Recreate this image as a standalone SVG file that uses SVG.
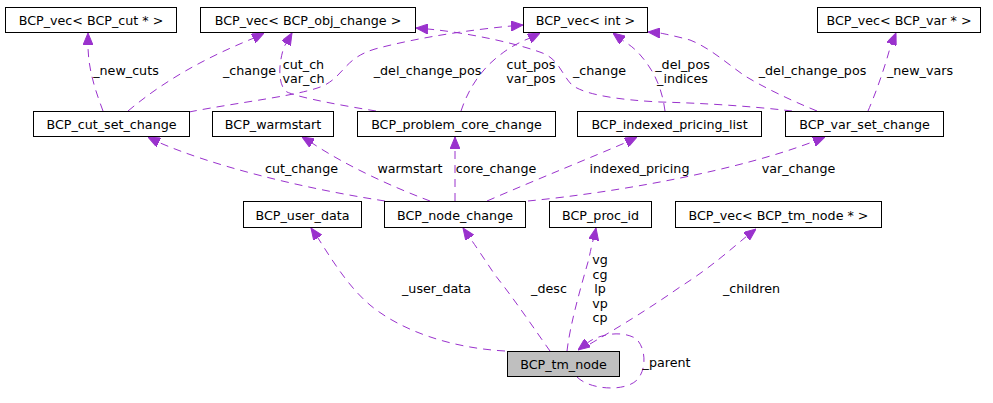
<svg xmlns="http://www.w3.org/2000/svg" width="993" height="403" viewBox="0 0 993 403">
<style>
.n rect{fill:#ffffff;stroke:#000000;stroke-width:1}
.n.hl rect{fill:#bfbfbf}
text{font-family:"DejaVu Sans","Liberation Sans",sans-serif;font-size:12.7px;fill:#000000}
.n text{text-anchor:middle}
.lbl text{text-anchor:middle}
.e path{fill:none;stroke:#9a32cd;stroke-width:1;stroke-dasharray:8,6;marker-end:url(#ah)}
</style>
<defs>
<marker id="ah" markerUnits="userSpaceOnUse" viewBox="0 0 12 10" markerWidth="12" markerHeight="10" refX="12" refY="5" orient="auto">
<path d="M0,0 L12,5 L0,10 z" fill="#9a32cd" stroke="#9a32cd"/>
</marker>
</defs>
<rect width="993" height="403" fill="#ffffff"/>

<g id="connectors" class="e">
<path d="M103,111 C96,92 88,70 88,45 L88,33"/>
<path d="M128,111 C165,80 205,58 254,38 L264,33"/>
<path d="M376,111 C345,106 300,98 287,92 C278,86 278,65 284,47 L292,33"/>
<path d="M189,112 C240,102 305,95 325,85 C345,74 345,58 375,49 C420,37 470,30 511,26 L523,25"/>
<path d="M461,111 C468,90 480,70 500,55 C510,47 520,42 530,38 L540,33"/>
<path d="M792,111 C750,106 700,103 660,102 C620,100 585,95 572,85 C562,75 560,62 545,54 C520,44 470,33 428,29 L416,28"/>
<path d="M665,111 C663,95 658,80 650,68 C643,57 635,48 625,42 L613,33"/>
<path d="M817,111 C790,100 765,88 745,76 C725,62 710,48 690,40 C675,36 665,34 660,33 L648,32"/>
<path d="M868,111 C875,95 884,70 890,48 L896,33"/>
<path d="M385,201 C300,188 210,165 158,142 L148,137"/>
<path d="M430,201 C390,186 345,165 312,143 L302,137"/>
<path d="M455,201 L455,137"/>
<path d="M487,201 C540,178 590,158 627,142 L637,137"/>
<path d="M528,201 C620,192 740,170 815,141 L825,137"/>
<path d="M505,351 C450,348 400,330 370,305 C350,288 335,265 318,238 L311,228"/>
<path d="M550,351 C535,330 515,300 495,275 C485,260 475,245 470,238 L463,228"/>
<path d="M567,351 C570,325 580,290 588,262 C591,250 592,242 594,238 L596,228"/>
<path d="M590,344 C605,335 640,315 680,287 C710,268 730,250 747,236 L756,229"/>
<path d="M577,377 C590,390 625,392 637,380 C648,368 645,345 635,338 C620,330 600,335 590,341 L578,350"/>
</g>

<g id="edge-labels" class="lbl">
<text x="126" y="75">_new_cuts</text>
<text x="249.5" y="75">_change</text>
<text x="303.5" y="69">cut_ch</text>
<text x="303.5" y="83">var_ch</text>
<text x="427.5" y="75">_del_change_pos</text>
<text x="531" y="69">cut_pos</text>
<text x="531" y="83">var_pos</text>
<text x="599.5" y="75">_change</text>
<text x="682.5" y="69">_del_pos</text>
<text x="682.5" y="83">_indices</text>
<text x="812.5" y="75">_del_change_pos</text>
<text x="920" y="75">_new_vars</text>
<text x="301.5" y="173">cut_change</text>
<text x="410" y="173">warmstart</text>
<text x="496" y="173">core_change</text>
<text x="639.5" y="173">indexed_pricing</text>
<text x="798.5" y="173">var_change</text>
<text x="436.5" y="293">_user_data</text>
<text x="549" y="293">_desc</text>
<text x="600" y="264">vg</text>
<text x="600" y="278.5">cg</text>
<text x="600" y="293">lp</text>
<text x="600" y="307.5">vp</text>
<text x="600" y="322">cp</text>
<text x="751.5" y="293">_children</text>
<text x="666.5" y="367">_parent</text>
</g>

<g id="node-vec-cut" class="n"><rect x="5.5" y="7.5" width="171" height="25"/><text x="91" y="25.3">BCP_vec&lt; BCP_cut * &gt;</text></g>
<g id="node-vec-obj-change" class="n"><rect x="200.5" y="7.5" width="215" height="25"/><text x="308" y="25.3">BCP_vec&lt; BCP_obj_change &gt;</text></g>
<g id="node-vec-int" class="n"><rect x="523.5" y="7.5" width="124" height="25"/><text x="585.5" y="25.3">BCP_vec&lt; int &gt;</text></g>
<g id="node-vec-var" class="n"><rect x="817.5" y="7.5" width="163" height="25"/><text x="899" y="25.3">BCP_vec&lt; BCP_var * &gt;</text></g>

<g id="node-cut-set-change" class="n"><rect x="33.5" y="111.5" width="156" height="25"/><text x="111.5" y="129">BCP_cut_set_change</text></g>
<g id="node-warmstart" class="n"><rect x="212.5" y="111.5" width="121" height="25"/><text x="273" y="129">BCP_warmstart</text></g>
<g id="node-problem-core-change" class="n"><rect x="357.5" y="111.5" width="198" height="25"/><text x="456.5" y="129">BCP_problem_core_change</text></g>
<g id="node-indexed-pricing-list" class="n"><rect x="577.5" y="111.5" width="184" height="25"/><text x="669.5" y="129">BCP_indexed_pricing_list</text></g>
<g id="node-var-set-change" class="n"><rect x="785.5" y="111.5" width="158" height="25"/><text x="864.5" y="129">BCP_var_set_change</text></g>

<g id="node-user-data" class="n"><rect x="243.5" y="201.5" width="118" height="26"/><text x="302.5" y="219.5">BCP_user_data</text></g>
<g id="node-node-change" class="n"><rect x="384.5" y="201.5" width="141" height="26"/><text x="455" y="219.5">BCP_node_change</text></g>
<g id="node-proc-id" class="n"><rect x="549.5" y="201.5" width="102" height="26"/><text x="600.5" y="219.5">BCP_proc_id</text></g>
<g id="node-vec-tm-node" class="n"><rect x="675.5" y="201.5" width="206" height="26"/><text x="778.5" y="219.5">BCP_vec&lt; BCP_tm_node * &gt;</text></g>

<g id="node-tm-node" class="n hl"><rect x="507.5" y="351.5" width="112" height="25"/><text x="563.5" y="369">BCP_tm_node</text></g>
</svg>
